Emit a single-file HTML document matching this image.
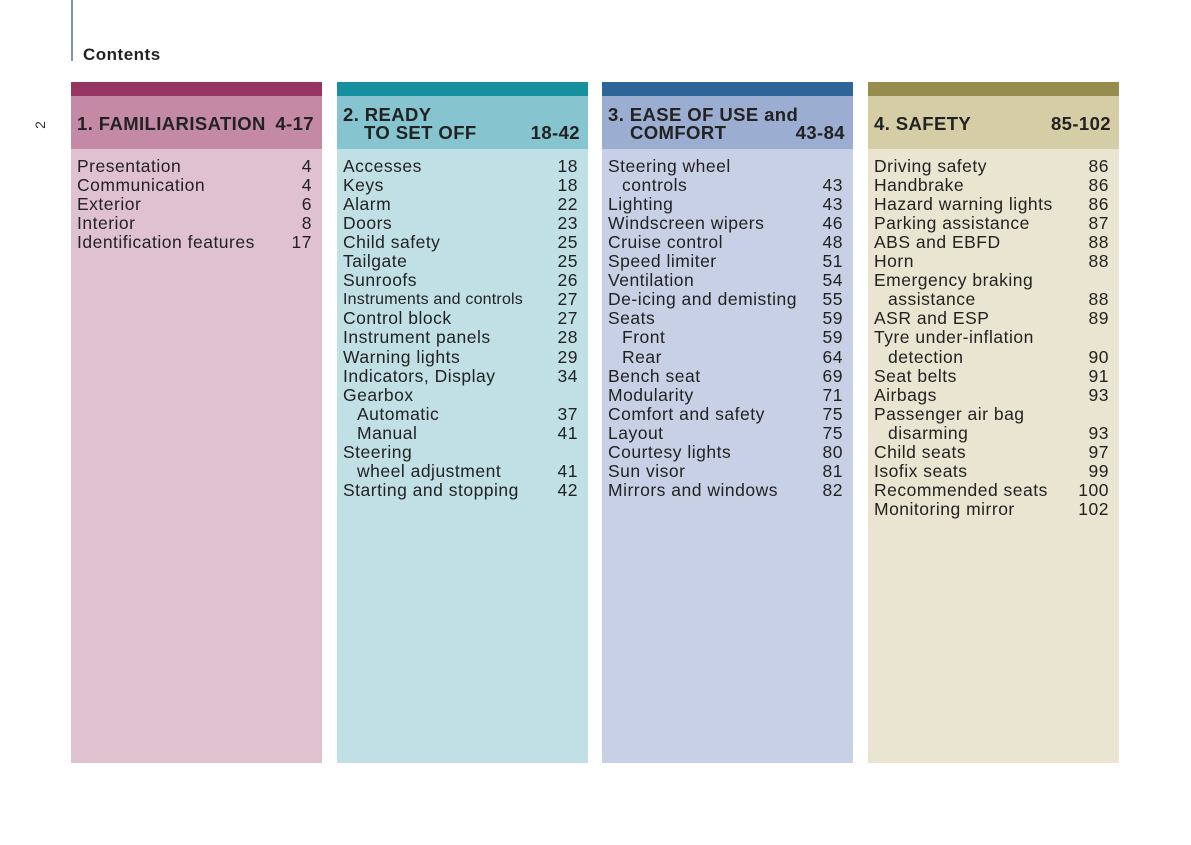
<!DOCTYPE html><html><head><style>
body{margin:0;width:1191px;height:845px;background:#fff;position:relative;font-family:"Liberation Sans",Arial,sans-serif;overflow:hidden}
.a{position:absolute}
.col{position:absolute;top:82px;width:251px;height:681px}
.bar{height:14px}.hd{height:53px;position:relative;font-weight:bold;font-size:18.5px;color:#222;letter-spacing:0.4px}
.bd{height:614px;position:relative;font-size:17.5px;color:#222;letter-spacing:0.5px}
.r{position:absolute;left:6px;right:10px;height:19px;line-height:19px;white-space:nowrap}
.r span{position:absolute;right:0}
.i{padding-left:14px}
</style></head><body>
<div class="a" style="left:71px;top:0;width:2px;height:61px;background:#7e94b8"></div>
<div class="a" style="left:83px;top:45px;font-weight:bold;font-size:17px;letter-spacing:0.5px;color:#222">Contents</div>
<div class="a" style="left:36px;top:117px;font-size:14px;transform:rotate(-90deg);color:#333">2</div>

<div class="col" style="left:71px"><div class="bar" style="background:#943562"></div>
<div class="hd" style="background:#c48aa5"><div class="a" style="left:6px;top:17px">1. FAMILIARISATION</div><div class="a" style="right:8px;top:17px">4-17</div></div>
<div class="bd" style="background:#e0c1d0" id="c1"></div></div>

<div class="col" style="left:337px"><div class="bar" style="background:#16909f"></div>
<div class="hd" style="background:#86c4d0"><div class="a" style="left:6px;top:8px">2. READY</div><div class="a" style="left:27px;top:26px">TO SET OFF</div><div class="a" style="right:8px;top:26px">18-42</div></div>
<div class="bd" style="background:#c0e0e5" id="c2"></div></div>

<div class="col" style="left:602px"><div class="bar" style="background:#2d6599"></div>
<div class="hd" style="background:#9badd0"><div class="a" style="left:6px;top:8px">3. EASE OF USE and</div><div class="a" style="left:28px;top:26px">COMFORT</div><div class="a" style="right:8px;top:26px">43-84</div></div>
<div class="bd" style="background:#c8d0e5" id="c3"></div></div>

<div class="col" style="left:868px"><div class="bar" style="background:#968c4e"></div>
<div class="hd" style="background:#d4cda6"><div class="a" style="left:6px;top:17px">4. SAFETY</div><div class="a" style="right:8px;top:17px">85-102</div></div>
<div class="bd" style="background:#e9e5d0" id="c4"></div></div>

<script>
const D={c1:[["Presentation","4"],["Communication","4"],["Exterior","6"],["Interior","8"],["Identification features","17"]],
c2:[["Accesses","18"],["Keys","18"],["Alarm","22"],["Doors","23"],["Child safety","25"],["Tailgate","25"],["Sunroofs","26"],["Instruments and controls","27",1],["Control block","27"],["Instrument panels","28"],["Warning lights","29"],["Indicators, Display","34"],["Gearbox",""],["~Automatic","37"],["~Manual","41"],["Steering",""],["~wheel adjustment","41"],["Starting and stopping","42"]],
c3:[["Steering wheel",""],["~controls","43"],["Lighting","43"],["Windscreen wipers","46"],["Cruise control","48"],["Speed limiter","51"],["Ventilation","54"],["De-icing and demisting","55"],["Seats","59"],["~Front","59"],["~Rear","64"],["Bench seat","69"],["Modularity","71"],["Comfort and safety","75"],["Layout","75"],["Courtesy lights","80"],["Sun visor","81"],["Mirrors and windows","82"]],
c4:[["Driving safety","86"],["Handbrake","86"],["Hazard warning lights","86"],["Parking assistance","87"],["ABS and EBFD","88"],["Horn","88"],["Emergency braking",""],["~assistance","88"],["ASR and ESP","89"],["Tyre under-inflation",""],["~detection","90"],["Seat belts","91"],["Airbags","93"],["Passenger air bag",""],["~disarming","93"],["Child seats","97"],["Isofix seats","99"],["Recommended seats","100"],["Monitoring mirror","102"]]};
for(const k in D){const el=document.getElementById(k);let h="";D[k].forEach((r,i)=>{let t=r[0],c="r";if(t[0]=="~"){t=t.slice(1);c+=" i"}
h+=`<div class="${c}" style="top:${8+i*19.05}px${r[2]?';font-size:16px;letter-spacing:0.2px':''}">${t}<span style="font-size:17.5px;letter-spacing:0.5px">${r[1]}</span></div>`});el.innerHTML=h}
</script>
</body></html>
